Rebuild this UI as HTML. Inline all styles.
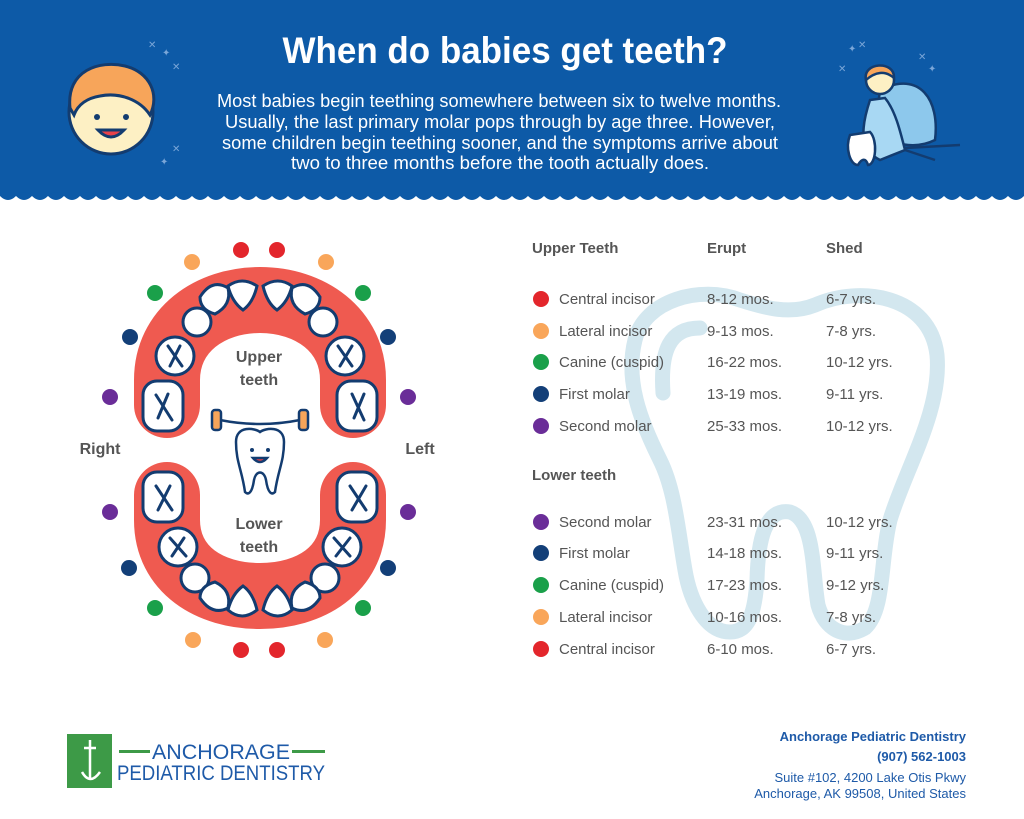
<!DOCTYPE html>
<html><head><meta charset="utf-8"><style>
html,body{margin:0;padding:0;background:#fff}
svg{display:block}
text{font-family:"Liberation Sans Narrow","Liberation Sans",sans-serif}
</style></head><body>
<svg width="1024" height="819" viewBox="0 0 1024 819" xmlns="http://www.w3.org/2000/svg">
<!-- header -->
<rect x="0" y="0" width="1024" height="196" fill="#0d5aa7"/>
<path d="M0,196 Q8,188 16,196 T32,196 T48,196 T64,196 T80,196 T96,196 T112,196 T128,196 T144,196 T160,196 T176,196 T192,196 T208,196 T224,196 T240,196 T256,196 T272,196 T288,196 T304,196 T320,196 T336,196 T352,196 T368,196 T384,196 T400,196 T416,196 T432,196 T448,196 T464,196 T480,196 T496,196 T512,196 T528,196 T544,196 T560,196 T576,196 T592,196 T608,196 T624,196 T640,196 T656,196 T672,196 T688,196 T704,196 T720,196 T736,196 T752,196 T768,196 T784,196 T800,196 T816,196 T832,196 T848,196 T864,196 T880,196 T896,196 T912,196 T928,196 T944,196 T960,196 T976,196 T992,196 T1008,196 T1024,196 L1024,190 L0,190Z" fill="#0d5aa7"/>
<path d="M0,196 Q8,204 16,196 T32,196 T48,196 T64,196 T80,196 T96,196 T112,196 T128,196 T144,196 T160,196 T176,196 T192,196 T208,196 T224,196 T240,196 T256,196 T272,196 T288,196 T304,196 T320,196 T336,196 T352,196 T368,196 T384,196 T400,196 T416,196 T432,196 T448,196 T464,196 T480,196 T496,196 T512,196 T528,196 T544,196 T560,196 T576,196 T592,196 T608,196 T624,196 T640,196 T656,196 T672,196 T688,196 T704,196 T720,196 T736,196 T752,196 T768,196 T784,196 T800,196 T816,196 T832,196 T848,196 T864,196 T880,196 T896,196 T912,196 T928,196 T944,196 T960,196 T976,196 T992,196 T1008,196 T1024,196 L1024,190 L0,190Z" fill="#0d5aa7"/>
<text x="505" y="63" fill="#fff" font-size="37" font-weight="bold" text-anchor="middle" textLength="445" lengthAdjust="spacingAndGlyphs">When do babies get teeth?</text>
<g fill="#fff" font-size="18">
<text x="217" y="107" textLength="564" lengthAdjust="spacingAndGlyphs">Most babies begin teething somewhere between six to twelve months.</text>
<text x="225" y="128" textLength="550" lengthAdjust="spacingAndGlyphs">Usually, the last primary molar pops through by age three. However,</text>
<text x="222" y="149" textLength="556" lengthAdjust="spacingAndGlyphs">some children begin teething sooner, and the symptoms arrive about</text>
<text x="291" y="169" textLength="418" lengthAdjust="spacingAndGlyphs">two to three months before the tooth actually does.</text>
</g>
<!-- baby -->
<g stroke="#133c70" stroke-width="3">
<circle cx="111" cy="112" r="42" fill="#fdf0c4"/>
<path d="M70,108 C66,70 100,60 125,66 C150,72 160,95 150,115 C140,100 120,92 100,96 C88,98 78,104 74,115Z" fill="#f7a55a"/>
<path d="M98,130 Q111,144 124,130Z" fill="#e8424a"/>
</g>
<circle cx="97" cy="117" r="3" fill="#133c70"/><circle cx="126" cy="117" r="3" fill="#133c70"/>
<g fill="#7aa6d8" font-size="10"><text x="148" y="48">✕</text><text x="162" y="56">✦</text><text x="172" y="70">✕</text><text x="172" y="152">✕</text><text x="160" y="165">✦</text></g>
<!-- fairy -->
<g stroke="#133c70" stroke-width="2.5">
<path d="M880,90 C920,70 940,100 935,140 C915,150 890,145 875,130Z" fill="#8dc8ec"/>
<path d="M870,100 C860,130 860,150 880,160 L905,150 C900,130 895,110 885,98Z" fill="#a8d8f3"/>
<circle cx="880" cy="80" r="14" fill="#fdf0c4"/>
<path d="M866,80 C862,62 895,60 894,78 C885,70 875,72 866,80Z" fill="#f7a55a"/>
<path d="M850,135 C845,148 850,165 858,165 C862,158 866,158 868,165 C876,165 878,140 870,132Z" fill="#fff"/>
<path d="M905,150 L935,160 M905,148 L960,145" fill="none"/>
</g>
<g fill="#7aa6d8" font-size="10"><text x="848" y="52">✦</text><text x="858" y="48">✕</text><text x="918" y="60">✕</text><text x="928" y="72">✦</text><text x="838" y="72">✕</text></g>

<!-- arches -->
<path d="M167,405 L167,380 C167,330 210,300 260,300 C310,300 353,330 353,380 L353,405" fill="none" stroke="#ef5a50" stroke-width="66" stroke-linecap="round"/>
<path d="M167,495 L167,520 C167,570 210,596 260,596 C310,596 353,570 353,520 L353,495" fill="none" stroke="#ef5a50" stroke-width="66" stroke-linecap="round"/>
<g fill="#fff" stroke="#133c70" stroke-width="3">
<rect x="143" y="381" width="40" height="50" rx="14"/><rect x="337" y="381" width="40" height="50" rx="14"/>
<circle cx="175" cy="356" r="19"/><circle cx="345" cy="356" r="19"/>
<circle cx="197" cy="322" r="14"/><circle cx="323" cy="322" r="14"/>
<path d="M200,297 Q212,278 228,288 Q232,305 215,314 Q200,310 200,297Z"/><path d="M320,297 Q308,278 292,288 Q288,305 305,314 Q320,310 320,297Z"/>
<path d="M228,286 Q242,276 257,286 Q253,303 243,310 Q232,302 228,286Z"/><path d="M292,286 Q278,276 263,286 Q267,303 277,310 Q288,302 292,286Z"/>
<rect x="143" y="472" width="40" height="50" rx="14"/><rect x="337" y="472" width="40" height="50" rx="14"/>
<circle cx="178" cy="547" r="19"/><circle cx="342" cy="547" r="19"/>
<circle cx="195" cy="578" r="14"/><circle cx="325" cy="578" r="14"/>
<path d="M200,598 Q212,616 228,608 Q232,590 215,582 Q200,586 200,598Z"/><path d="M320,598 Q308,616 292,608 Q288,590 305,582 Q320,586 320,598Z"/>
<path d="M228,610 Q242,622 257,610 Q253,593 243,586 Q232,594 228,610Z"/><path d="M292,610 Q278,622 263,610 Q267,593 277,586 Q288,594 292,610Z"/>
</g>
<g stroke="#133c70" stroke-width="3" fill="none" stroke-linecap="round">
<path d="M156,395 L172,420 M168,394 L158,418"/><path d="M352,394 L364,420 M364,394 L354,418"/>
<path d="M168,346 L182,366 M180,346 L170,366"/><path d="M338,346 L352,366 M352,346 L340,366"/>
<path d="M156,486 L172,510 M170,486 L158,510"/><path d="M350,486 L366,510 M366,486 L352,510"/>
<path d="M170,538 L186,556 M184,538 L172,556"/><path d="M334,538 L350,556 M350,538 L336,556"/>
</g>
<g fill="#555" font-size="16" font-weight="bold" text-anchor="middle">
<text x="259" y="362">Upper</text><text x="259" y="385">teeth</text>
<text x="259" y="529">Lower</text><text x="259" y="552">teeth</text>
<text x="100" y="454">Right</text><text x="420" y="454">Left</text>
</g>
<!-- mascot -->
<g stroke="#133c70" stroke-width="2.5">
<path d="M220,420 Q260,428 300,420" fill="none"/>
<rect x="212" y="410" width="9" height="20" rx="3" fill="#f7a55a"/><rect x="299" y="410" width="9" height="20" rx="3" fill="#f7a55a"/>
<path d="M236,442 C236,425 255,428 260,432 C265,428 284,425 284,442 C284,462 278,470 275,492 C272,495 268,494 266,480 C264,470 256,470 254,480 C252,494 248,495 245,492 C242,470 236,462 236,442Z" fill="#fff"/>
<path d="M253,458 Q260,466 267,458Z" fill="#e8424a"/>
</g>
<circle cx="252" cy="450" r="2" fill="#133c70"/><circle cx="268" cy="450" r="2" fill="#133c70"/>
<!-- dots -->
<g>
<circle cx="241" cy="250" r="8" fill="#e3262c"/><circle cx="277" cy="250" r="8" fill="#e3262c"/>
<circle cx="192" cy="262" r="8" fill="#f9a65a"/><circle cx="326" cy="262" r="8" fill="#f9a65a"/>
<circle cx="155" cy="293" r="8" fill="#1aa04a"/><circle cx="363" cy="293" r="8" fill="#1aa04a"/>
<circle cx="130" cy="337" r="8" fill="#133f78"/><circle cx="388" cy="337" r="8" fill="#133f78"/>
<circle cx="110" cy="397" r="8" fill="#6a2d98"/><circle cx="408" cy="397" r="8" fill="#6a2d98"/>
<circle cx="110" cy="512" r="8" fill="#6a2d98"/><circle cx="408" cy="512" r="8" fill="#6a2d98"/>
<circle cx="129" cy="568" r="8" fill="#133f78"/><circle cx="388" cy="568" r="8" fill="#133f78"/>
<circle cx="155" cy="608" r="8" fill="#1aa04a"/><circle cx="363" cy="608" r="8" fill="#1aa04a"/>
<circle cx="193" cy="640" r="8" fill="#f9a65a"/><circle cx="325" cy="640" r="8" fill="#f9a65a"/>
<circle cx="241" cy="650" r="8" fill="#e3262c"/><circle cx="277" cy="650" r="8" fill="#e3262c"/>
</g>
<!-- big tooth outline -->
<g fill="none" stroke="#d3e7ef" stroke-width="15" stroke-linecap="round" stroke-linejoin="round">
<path d="M660,460 C640,420 625,380 635,340 C645,300 700,285 740,300 C765,308 790,315 815,305 C860,285 930,295 937,355 C942,410 905,470 890,520 C880,560 885,610 865,628 C845,640 825,630 818,605 C812,570 815,520 790,512 C765,508 758,540 757,580 C755,610 750,632 730,632 C705,632 690,600 685,570 C678,530 675,490 660,460Z"/>
<path d="M700,328 C670,328 660,350 663,393"/>
</g>
<!-- table -->
<g fill="#555" font-size="15" font-weight="bold">
<text x="532" y="253">Upper Teeth</text><text x="707" y="253">Erupt</text><text x="826" y="253">Shed</text>
<text x="532" y="480">Lower teeth</text>
</g>
<g fill="#555" font-size="15">
<text x="559" y="304">Central incisor</text><text x="707" y="304">8-12 mos.</text><text x="826" y="304">6-7 yrs.</text>
<text x="559" y="336">Lateral incisor</text><text x="707" y="336">9-13 mos.</text><text x="826" y="336">7-8 yrs.</text>
<text x="559" y="367">Canine (cuspid)</text><text x="707" y="367">16-22 mos.</text><text x="826" y="367">10-12 yrs.</text>
<text x="559" y="399">First molar</text><text x="707" y="399">13-19 mos.</text><text x="826" y="399">9-11 yrs.</text>
<text x="559" y="431">Second molar</text><text x="707" y="431">25-33 mos.</text><text x="826" y="431">10-12 yrs.</text>
<text x="559" y="527">Second molar</text><text x="707" y="527">23-31 mos.</text><text x="826" y="527">10-12 yrs.</text>
<text x="559" y="558">First molar</text><text x="707" y="558">14-18 mos.</text><text x="826" y="558">9-11 yrs.</text>
<text x="559" y="590">Canine (cuspid)</text><text x="707" y="590">17-23 mos.</text><text x="826" y="590">9-12 yrs.</text>
<text x="559" y="622">Lateral incisor</text><text x="707" y="622">10-16 mos.</text><text x="826" y="622">7-8 yrs.</text>
<text x="559" y="654">Central incisor</text><text x="707" y="654">6-10 mos.</text><text x="826" y="654">6-7 yrs.</text>
</g>
<g>
<circle cx="541" cy="299" r="8" fill="#e3262c"/><circle cx="541" cy="331" r="8" fill="#f9a65a"/>
<circle cx="541" cy="362" r="8" fill="#1aa04a"/><circle cx="541" cy="394" r="8" fill="#133f78"/>
<circle cx="541" cy="426" r="8" fill="#6a2d98"/>
<circle cx="541" cy="522" r="8" fill="#6a2d98"/><circle cx="541" cy="553" r="8" fill="#133f78"/>
<circle cx="541" cy="585" r="8" fill="#1aa04a"/><circle cx="541" cy="617" r="8" fill="#f9a65a"/>
<circle cx="541" cy="649" r="8" fill="#e3262c"/>
</g>
<!-- footer logo -->
<rect x="67" y="734" width="45" height="54" fill="#3d9a47"/>
<path d="M90,740 L90,780 M82,772 Q90,786 100,772 M84,748 L96,748" stroke="#fff" stroke-width="2.5" fill="none"/>
<rect x="119" y="750" width="31" height="3" fill="#3d9a47"/><rect x="292" y="750" width="33" height="3" fill="#3d9a47"/>
<g fill="#1e5aa8" font-size="21">
<text x="152" y="759" textLength="138" lengthAdjust="spacingAndGlyphs">ANCHORAGE</text>
<text x="117" y="780" textLength="208" lengthAdjust="spacingAndGlyphs">PEDIATRIC DENTISTRY</text>
</g>
<g fill="#1e5aa8" font-size="13" text-anchor="end">
<text x="966" y="741" font-weight="bold">Anchorage Pediatric Dentistry</text>
<text x="966" y="761" font-weight="bold">(907) 562-1003</text>
<text x="966" y="782">Suite #102, 4200 Lake Otis Pkwy</text>
<text x="966" y="798">Anchorage, AK 99508, United States</text>
</g>
</svg>
</body></html>
